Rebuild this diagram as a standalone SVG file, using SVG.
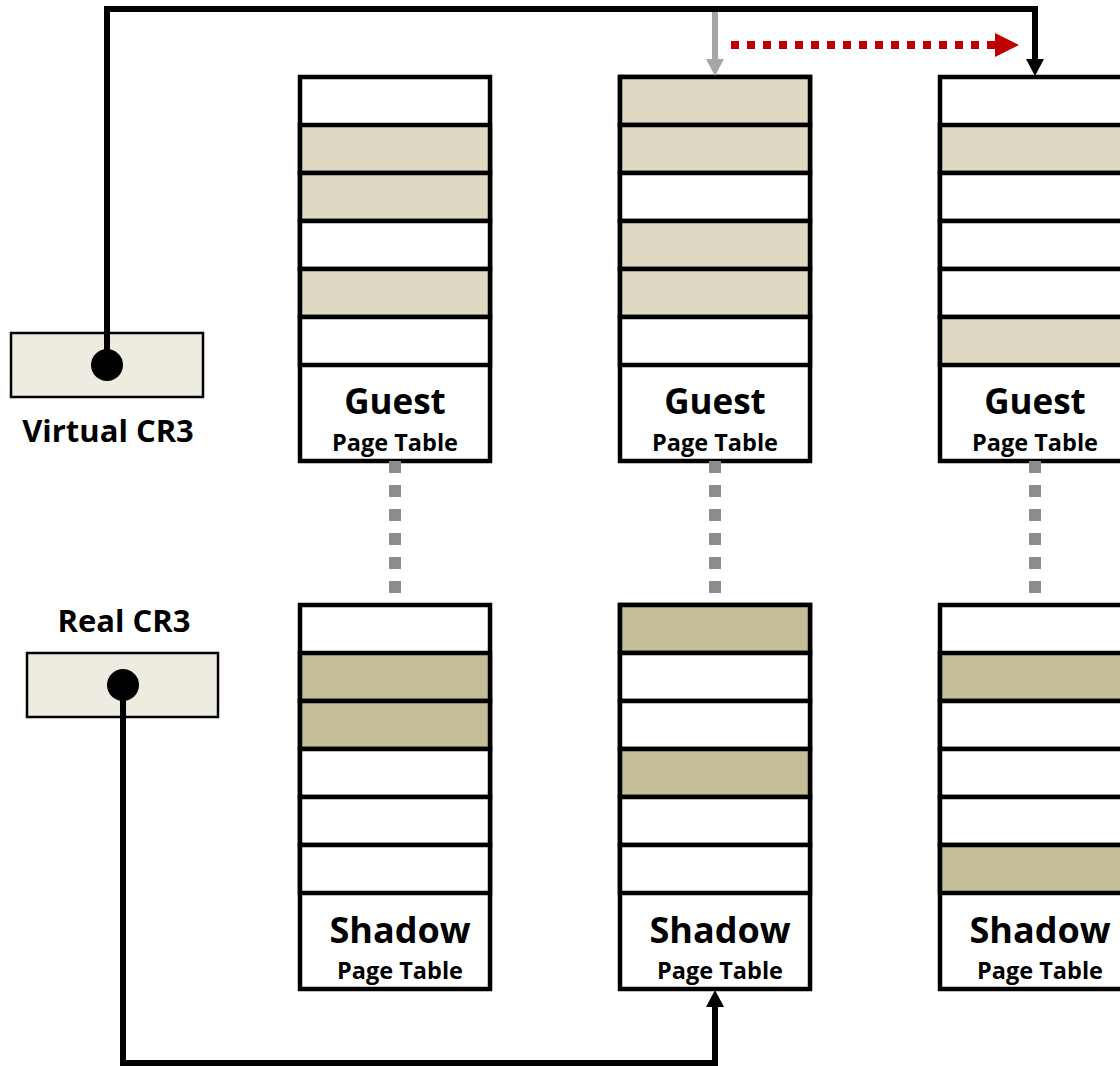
<svg xmlns="http://www.w3.org/2000/svg" width="1120" height="1066" viewBox="0 0 1120 1066">
<style>
.cell{stroke:#000;stroke-width:4.5;fill:#fff}
.g{fill:#DFD9C3}
.s{fill:#C4BD97}
.box{stroke:#000;stroke-width:2.5;fill:#EEECE1}
.big{font-family:"Open Sans","Liberation Sans",sans-serif;font-weight:bold;font-size:35px;text-anchor:middle;fill:#000}
.sh{font-size:36px}
.small{font-family:"Open Sans","Liberation Sans",sans-serif;font-weight:bold;font-size:23.5px;text-anchor:middle;fill:#000}
.lbl{font-family:"Open Sans","Liberation Sans",sans-serif;font-weight:bold;font-size:31px;text-anchor:middle;fill:#000}
.dot{stroke:#8C8C8C;stroke-width:12;stroke-dasharray:12 12;fill:none}
.wire{stroke:#000;stroke-width:6;fill:none}
</style>
<rect width="1120" height="1066" fill="#fff"/>

<g id="guest1">
<rect class="cell" x="300" y="77" width="190" height="384"/>
<rect class="cell g" x="300" y="125" width="190" height="48"/>
<rect class="cell g" x="300" y="173" width="190" height="48"/>
<rect class="cell" x="300" y="221" width="190" height="48"/>
<rect class="cell g" x="300" y="269" width="190" height="48"/>
<rect class="cell" x="300" y="317" width="190" height="48"/>
<text class="big" x="395" y="414">Guest</text>
<text class="small" x="395" y="451">Page Table</text>
</g>
<g id="guest2">
<rect class="cell" x="620" y="77" width="190" height="384"/>
<rect class="cell g" x="620" y="77" width="190" height="48"/>
<rect class="cell g" x="620" y="125" width="190" height="48"/>
<rect class="cell" x="620" y="173" width="190" height="48"/>
<rect class="cell g" x="620" y="221" width="190" height="48"/>
<rect class="cell g" x="620" y="269" width="190" height="48"/>
<rect class="cell" x="620" y="317" width="190" height="48"/>
<text class="big" x="715" y="414">Guest</text>
<text class="small" x="715" y="451">Page Table</text>
</g>
<g id="guest3">
<rect class="cell" x="940" y="77" width="190" height="384"/>
<rect class="cell g" x="940" y="125" width="190" height="48"/>
<rect class="cell" x="940" y="173" width="190" height="48"/>
<rect class="cell" x="940" y="221" width="190" height="48"/>
<rect class="cell" x="940" y="269" width="190" height="48"/>
<rect class="cell g" x="940" y="317" width="190" height="48"/>
<text class="big" x="1035" y="414">Guest</text>
<text class="small" x="1035" y="451">Page Table</text>
</g>

<g id="shadow1">
<rect class="cell" x="300" y="605" width="190" height="384"/>
<rect class="cell s" x="300" y="653" width="190" height="48"/>
<rect class="cell s" x="300" y="701" width="190" height="48"/>
<rect class="cell" x="300" y="749" width="190" height="48"/>
<rect class="cell" x="300" y="797" width="190" height="48"/>
<rect class="cell" x="300" y="845" width="190" height="48"/>
<text class="big sh" x="400" y="943">Shadow</text>
<text class="small" x="400" y="979">Page Table</text>
</g>
<g id="shadow2">
<rect class="cell" x="620" y="605" width="190" height="384"/>
<rect class="cell s" x="620" y="605" width="190" height="48"/>
<rect class="cell" x="620" y="653" width="190" height="48"/>
<rect class="cell" x="620" y="701" width="190" height="48"/>
<rect class="cell s" x="620" y="749" width="190" height="48"/>
<rect class="cell" x="620" y="797" width="190" height="48"/>
<rect class="cell" x="620" y="845" width="190" height="48"/>
<text class="big sh" x="720" y="943">Shadow</text>
<text class="small" x="720" y="979">Page Table</text>
</g>
<g id="shadow3">
<rect class="cell" x="940" y="605" width="190" height="384"/>
<rect class="cell s" x="940" y="653" width="190" height="48"/>
<rect class="cell" x="940" y="701" width="190" height="48"/>
<rect class="cell" x="940" y="749" width="190" height="48"/>
<rect class="cell" x="940" y="797" width="190" height="48"/>
<rect class="cell s" x="940" y="845" width="190" height="48"/>
<text class="big sh" x="1040" y="943">Shadow</text>
<text class="small" x="1040" y="979">Page Table</text>
</g>

<g id="vcr3">
<rect class="box" x="11" y="333" width="192" height="64"/>
<text class="lbl" x="108" y="442">Virtual CR3</text>
</g>
<g id="rcr3">
<rect class="box" x="27" y="653" width="191" height="64"/>
<text class="lbl" x="124" y="632">Real CR3</text>
</g>

<g id="connectors">
<path class="dot" d="M395,461V595"/>
<path class="dot" d="M715,461V595"/>
<path class="dot" d="M1035,461V595"/>
<path class="wire" d="M107,365V9H1035V60"/>
<path d="M1026,59L1044,59L1035,76z" fill="#000"/>
<path d="M715,12V60" stroke="#A6A6A6" stroke-width="6" fill="none"/>
<path d="M706,59L724,59L715,76z" fill="#A6A6A6"/>
<path d="M731,45H997" stroke="#C00000" stroke-width="8" stroke-dasharray="8 8" fill="none"/>
<path d="M995,33L1019,45L995,57z" fill="#C00000"/>
<path class="wire" d="M123,685V1063H715V1006"/>
<path d="M706,1007L724,1007L715,990z" fill="#000"/>
<circle cx="107" cy="365" r="16" fill="#000"/>
<circle cx="123" cy="685" r="16" fill="#000"/>
</g>
</svg>
